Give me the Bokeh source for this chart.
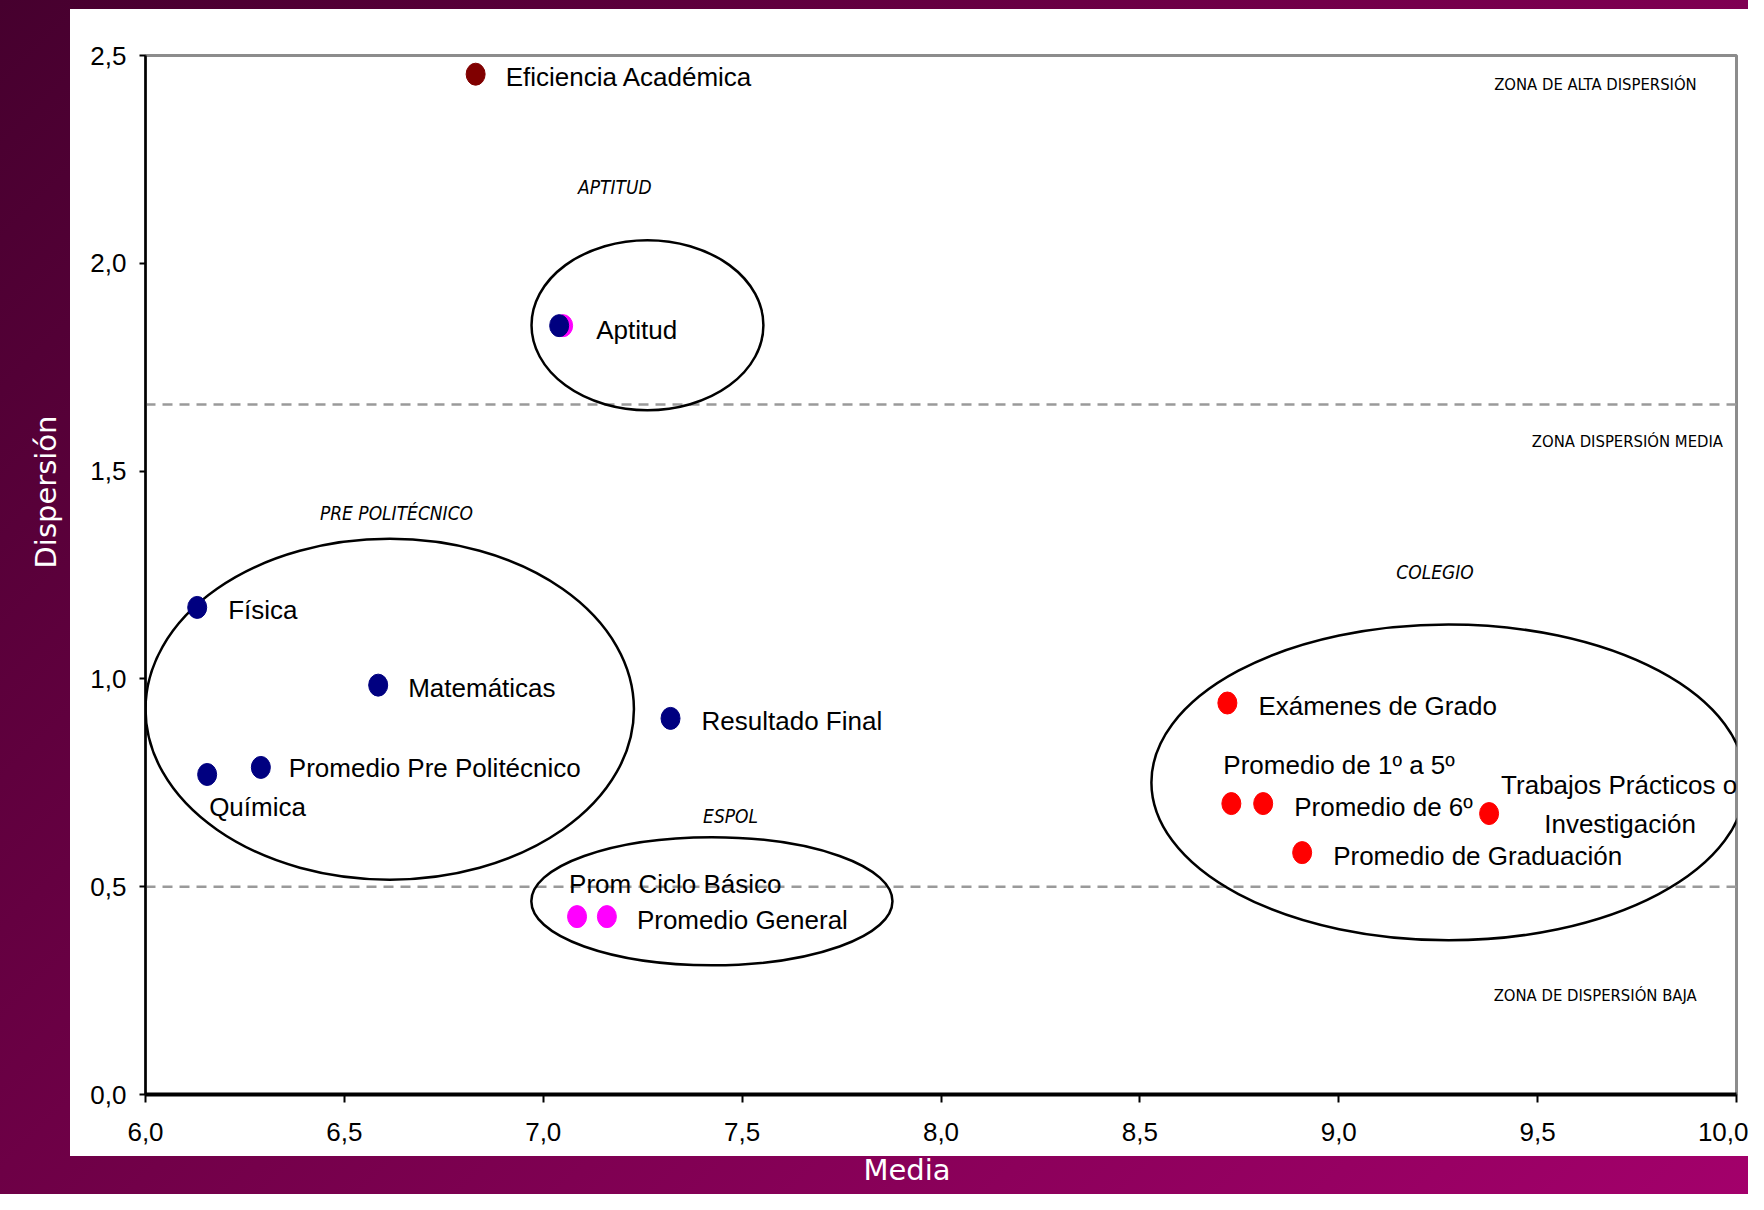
from bokeh.plotting import figure
from bokeh.models import Range1d, FixedTicker, Span, ColumnDataSource, Label, Title
from bokeh.core.properties import value
from bokeh.embed import file_html
from bokeh.resources import INLINE

# ---------------- data ----------------
point_names = ["Eficiencia Académica", "", "Aptitud", "Física", "Matemáticas",
               "Resultado Final", "Promedio Pre Politécnico", "Química",
               "Prom Ciclo Básico", "Promedio General", "Exámenes de Grado",
               "Promedio de 1º a 5º", "Promedio de 6º",
               "Trabajos Prácticos o Investigación", "Promedio de Graduación"]
point_media = [6.83, 7.05, 7.04, 6.13, 6.585, 7.32, 6.29, 6.155,
               7.085, 7.16, 8.72, 8.73, 8.81, 9.378, 8.908]
point_disp = [2.455, 1.85, 1.85, 1.172, 0.985, 0.905, 0.787, 0.77,
              0.428, 0.428, 0.942, 0.70, 0.70, 0.676, 0.582]
point_group = ["eficiencia", "espol", "pre", "pre", "pre", "pre", "pre", "pre",
               "espol", "espol", "colegio", "colegio", "colegio", "colegio", "colegio"]

group_names = ["APTITUD", "PRE POLITÉCNICO", "ESPOL", "COLEGIO"]
group_cx = [7.262, 6.614, 7.424, 9.276]
group_cy = [1.851, 0.927, 0.465, 0.751]
group_w = [0.583, 1.228, 0.908, 1.494]
group_h = [0.409, 0.820, 0.308, 0.760]

zone_names = ["ZONA DE ALTA DISPERSIÓN", "ZONA DISPERSIÓN MEDIA", "ZONA DE DISPERSIÓN BAJA"]
zone_limits = [1.66, 0.5]

x_title = "Media"
y_title = "Dispersión"
x_ticks = [6.0, 6.5, 7.0, 7.5, 8.0, 8.5, 9.0, 9.5, 10.0]
x_tick_labels = ["6,0", "6,5", "7,0", "7,5", "8,0", "8,5", "9,0", "9,5", "10,0"]
y_ticks = [0.0, 0.5, 1.0, 1.5, 2.0, 2.5]
y_tick_labels = ["0,0", "0,5", "1,0", "1,5", "2,0", "2,5"]

# ---------------- styles ----------------
group_colors = {"eficiencia": "#800000", "espol": "#ff00ff", "pre": "#000080", "colegio": "#ff0000"}
LABEL_FONT = "Liberation Sans"
SMALL_FONT = "DejaVu Sans Condensed"

p = figure(width=1748, height=1194, x_range=Range1d(6, 10), y_range=Range1d(0, 2.5),
           output_backend="svg", toolbar_location=None,
           min_border_left=145, min_border_right=12, min_border_top=55, min_border_bottom=99)
p.styles = {"background": "linear-gradient(#ffffff, #ffffff) 70px 9px / 1678px 1147px no-repeat, "
                          "linear-gradient(135deg, #46002e 0%, #720049 45%, #a3006b 100%)"}
p.border_fill_color = None
p.background_fill_color = "white"
p.grid.visible = False
p.outline_line_color = "#8c8c8c"
p.outline_line_width = 3

for ax, ticks, labels in ((p.xaxis, x_ticks, x_tick_labels), (p.yaxis, y_ticks, y_tick_labels)):
    ax.ticker = FixedTicker(ticks=ticks)
    ax.major_label_overrides = {t: l for t, l in zip(ticks, labels)}
    ax.minor_tick_line_color = None
    ax.major_tick_in = 0
    ax.major_label_text_font = "Liberation Sans"
    ax.major_label_text_font_size = "26px"
    ax.major_label_text_color = "black"
    ax.axis_line_color = "black"
    ax.major_tick_line_color = "black"
    ax.major_tick_line_width = 2

p.xaxis.major_tick_out = 8
p.xaxis.major_label_standoff = 20
p.xaxis.axis_line_width = 4

p.yaxis.major_tick_out = 6
p.yaxis.major_label_standoff = 13
p.yaxis.axis_line_width = 2.5

# axis titles (white, on the purple border)
title_style = dict(text_font="DejaVu Sans", text_font_size="29px", text_font_style="normal",
                   text_color="white", align="left")
p.add_layout(Title(text=y_title, offset=526, standoff=50, **title_style), "left")
p.add_layout(Title(text=x_title, offset=718, standoff=15, **title_style), "below")

for lim in zone_limits:
    p.add_layout(Span(location=lim, dimension="width", line_color="#9a9a9a",
                      line_width=2.5, line_dash="10 7", level="underlay"))

# group ellipses
p.ellipse(x=group_cx, y=group_cy, width=group_w, height=group_h,
          fill_alpha=0, line_color="black", line_width=2.5)

# points
src = ColumnDataSource(dict(x=point_media, y=point_disp, name=point_names,
                            color=[group_colors[g] for g in point_group]))
p.ellipse(x="x", y="y", width=19, height=22, width_units="screen", height_units="screen",
          fill_color="color", line_color="color", source=src)

# point labels (screen offsets from each point)
label_offsets = {
    "Eficiencia Académica": (30, 3), "Aptitud": (37, 4), "Física": (31, 3),
    "Matemáticas": (30, 3), "Resultado Final": (31, 3),
    "Promedio Pre Politécnico": (28, 1), "Química": (2, 33),
    "Prom Ciclo Básico": (-8, -33), "Promedio General": (30, 3),
    "Exámenes de Grado": (31, 3), "Promedio de 1º a 5º": (-8, -39),
    "Promedio de 6º": (31, 3), "Promedio de Graduación": (31, 3),
}
lx, ly, lt, ox, oy = [], [], [], [], []
for n, x, y in zip(point_names, point_media, point_disp):
    if n in label_offsets:
        lx.append(x); ly.append(y); lt.append(n)
        ox.append(label_offsets[n][0]); oy.append(label_offsets[n][1])
p.text(x=lx, y=ly, text=lt, x_offset=ox, y_offset=oy,
       text_font=value(LABEL_FONT), text_font_size="26px", text_color="black",
       text_align="left", text_baseline="middle")

# two-line label for Trabajos Prácticos o Investigación
i = point_names.index("Trabajos Prácticos o Investigación")
p.text(x=[point_media[i]] * 2, y=[point_disp[i]] * 2,
       text=["Trabajos Prácticos o", "Investigación"], x_offset=[130, 131], y_offset=[-29, 10],
       text_font=value(LABEL_FONT), text_font_size="26px", text_color="black",
       text_align="center", text_baseline="middle")

# group titles (italic)
for name, gx, gy in zip(group_names, [7.18, 6.631, 7.471, 9.242], [2.183, 1.399, 0.671, 1.258]):
    p.add_layout(Label(x=gx, y=gy, text=name, text_font=SMALL_FONT, text_font_size="19px",
                       text_font_style="italic", text_align="center", text_baseline="middle",
                       text_color="black"))

# zone labels
for name, zx, zy in zip(zone_names, [9.90, 9.966, 9.90], [2.43, 1.572, 0.238]):
    p.add_layout(Label(x=zx, y=zy, text=name, text_font=SMALL_FONT, text_font_size="16.5px",
                       text_align="right", text_baseline="middle", text_color="black"))

open("out.html", "w").write(file_html(p, INLINE))
